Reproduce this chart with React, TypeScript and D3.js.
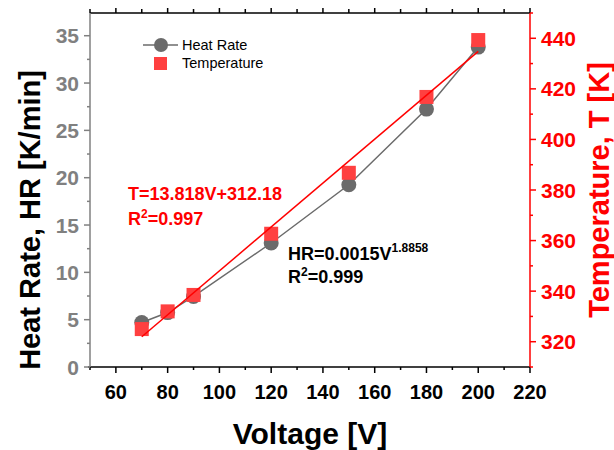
import React from "react";
import * as d3 from "d3";

// Applied voltage [V]
const voltage = [70, 80, 90, 120, 150, 180, 200];
// Heat rate [K/min]
const heatRate = [4.7, 5.75, 7.45, 13.1, 19.25, 27.25, 33.8];
// Temperature [K]
const temperature = [325, 332, 338.5, 362.7, 386.8, 416.8, 439.3];

const xTicks = [60, 80, 100, 120, 140, 160, 180, 200, 220];
const hrTicks = [0, 5, 10, 15, 20, 25, 30, 35];
const tTicks = [320, 340, 360, 380, 400, 420, 440];

const W = 614;
const H = 450;
const M = { left: 90, right: 84, top: 13, bottom: 83 };
const FONT = "'Liberation Sans', Arial, sans-serif";
const RED = "#ff0000";
const GREY = "#808080";

export default function App() {
  const x = d3.scaleLinear().domain([50, 220]).range([M.left, W - M.right]);
  const yHR = d3.scaleLinear().domain([0, 37.4]).range([H - M.bottom, M.top]);
  const yT = d3.scaleLinear().domain([310, 450]).range([H - M.bottom, M.top]);

  const x0 = M.left;
  const x1 = W - M.right;
  const y0 = H - M.bottom;
  const y1 = M.top;

  // least-squares fit of temperature against voltage
  const mv = d3.mean(voltage)!;
  const mt = d3.mean(temperature)!;
  const sxy = d3.sum(voltage, (v, i) => (v - mv) * (temperature[i] - mt));
  const sxx = d3.sum(voltage, (v) => (v - mv) ** 2);
  const slope = sxy / sxx;
  const icpt = mt - slope * mv;
  const vMin = d3.min(voltage)!;
  const vMax = d3.max(voltage)!;

  const hrLine = d3
    .line<number>()
    .x((_, i) => x(voltage[i]))
    .y((d) => yHR(d));

  const xMinor = d3.range(50, 221, 10);
  const hrMinor = d3.range(0, 37.5, 2.5);
  const tMinor = d3.range(310, 451, 10);

  return (
    <svg width={W} height={H} style={{ position: "absolute", left: 0, top: 0, background: "#fff" }} fontFamily={FONT}>
      <rect width={W} height={H} fill="#fff" />

      {/* fitted data */}
      <path d={hrLine(heatRate) || ""} fill="none" stroke="#6b6b6b" strokeWidth={1.5} />
      {voltage.map((v, i) => (
        <circle key={"c" + i} cx={x(v)} cy={yHR(heatRate[i])} r={7.5} fill="#6b6b6b" />
      ))}
      {voltage.map((v, i) => (
        <rect
          key={"s" + i}
          x={x(v) - 7}
          y={yT(temperature[i]) - 7}
          width={14}
          height={14}
          fill="#ff4040"
        />
      ))}
      <line
        x1={x(vMin)}
        y1={yT(slope * vMin + icpt)}
        x2={x(vMax)}
        y2={yT(slope * vMax + icpt)}
        stroke={RED}
        strokeWidth={1.5}
      />

      {/* top axis */}
      <line x1={x0} x2={x1} y1={y1} y2={y1} stroke="#000" strokeWidth={1.5} />
      {xMinor.map((v) => (
        <line key={"tt" + v} x1={x(v)} x2={x(v)} y1={y1} y2={y1 - (v % 20 === 0 ? 5 : 4)} stroke="#000" strokeWidth={1.5} />
      ))}

      {/* bottom axis */}
      <line x1={x0 - 2} x2={x1} y1={y0} y2={y0} stroke="#000" strokeWidth={1.5} />
      {xMinor.map((v) => (
        <line key={"bt" + v} x1={x(v)} x2={x(v)} y1={y0} y2={y0 + (v % 20 === 0 ? 6 : 3)} stroke="#000" strokeWidth={1.5} />
      ))}
      {xTicks.map((v) => (
        <text key={"bl" + v} x={x(v)} y={399} textAnchor="middle" fontSize={20} fontWeight="bold" fill="#000">
          {v}
        </text>
      ))}
      <text x={(x0 + x1) / 2} y={444} textAnchor="middle" fontSize={30} fontWeight="bold" fill="#000">
        Voltage [V]
      </text>

      {/* left axis */}
      <line x1={x0} x2={x0} y1={y0} y2={y1} stroke={GREY} strokeWidth={1.5} />
      {hrMinor.map((v) => (
        <line key={"lt" + v} x1={x0} x2={x0 - (v % 5 === 0 ? 6 : 3)} y1={yHR(v)} y2={yHR(v)} stroke={GREY} strokeWidth={1.5} />
      ))}
      {hrTicks.map((v) => (
        <text key={"ll" + v} x={79} y={yHR(v) + 7.5} textAnchor="end" fontSize={21} fontWeight="bold" fill={GREY}>
          {v}
        </text>
      ))}
      <text
        transform={`translate(40,${220}) rotate(-90)`}
        textAnchor="middle"
        fontSize={29}
        fontWeight="bold"
        fill="#000"
      >
        Heat Rate, HR [K/min]
      </text>

      {/* right axis */}
      <line x1={x1} x2={x1} y1={y0} y2={y1} stroke={RED} strokeWidth={1.5} />
      {tMinor.map((v) => (
        <line key={"rt" + v} x1={x1} x2={x1 + (v % 20 === 0 ? 6 : 3)} y1={yT(v)} y2={yT(v)} stroke={RED} strokeWidth={1.5} />
      ))}
      {tTicks.map((v) => (
        <text key={"rl" + v} x={541} y={yT(v) + 7.5} textAnchor="start" fontSize={21} fontWeight="bold" fill={RED}>
          {v}
        </text>
      ))}
      <text
        transform={`translate(609,${190}) rotate(-90)`}
        textAnchor="middle"
        fontSize={29}
        fontWeight="bold"
        fill={RED}
      >
        Temperature, T [K]
      </text>

      {/* legend */}
      <line x1={143} x2={178} y1={45} y2={45} stroke="#6b6b6b" strokeWidth={1.5} />
      <circle cx={161} cy={45} r={7} fill="#6b6b6b" />
      <text x={182} y={50} fontSize={14.5} fill="#000">
        Heat Rate
      </text>
      <rect x={154} y={57} width={13} height={13} fill="#ff4040" />
      <text x={182} y={68} fontSize={14.5} fill="#000">
        Temperature
      </text>

      {/* fit annotations */}
      <text x={128} y={200} fontSize={18} fontWeight="bold" fill={RED}>
        T=13.818V+312.18
      </text>
      <text x={128} y={225} fontSize={18} fontWeight="bold" fill={RED}>
        R<tspan dy={-7} fontSize={12}>2</tspan>
        <tspan dy={7}>=0.997</tspan>
      </text>
      <text x={288} y={260} fontSize={18} fontWeight="bold" fill="#000">
        HR=0.0015V<tspan dy={-8} fontSize={12}>1.8858</tspan>
      </text>
      <text x={288} y={283} fontSize={18} fontWeight="bold" fill="#000">
        R<tspan dy={-7} fontSize={12}>2</tspan>
        <tspan dy={7}>=0.999</tspan>
      </text>
    </svg>
  );
}
